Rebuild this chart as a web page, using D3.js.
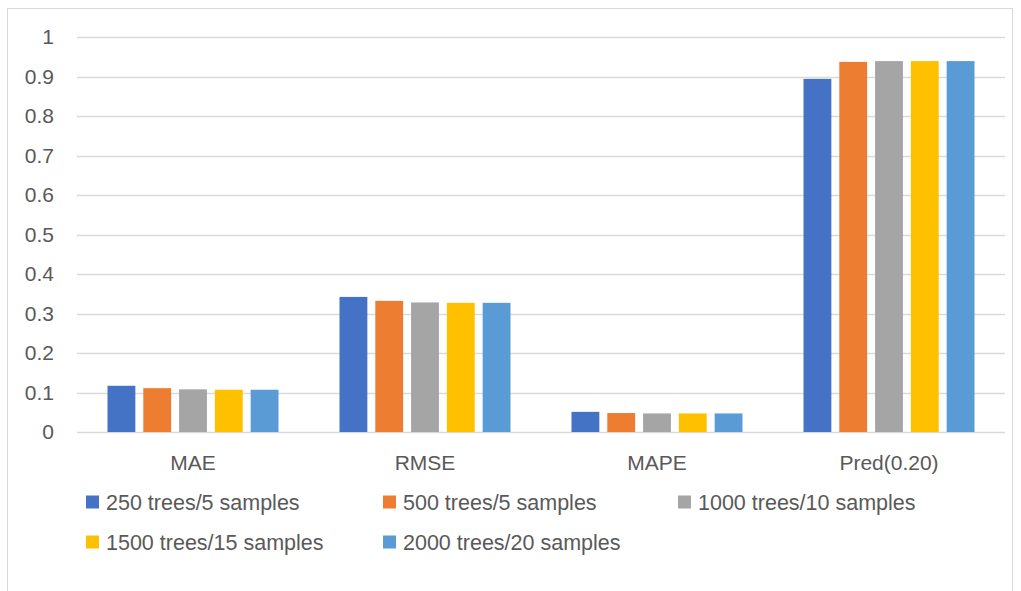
<!DOCTYPE html>
<html>
<head>
<meta charset="utf-8">
<script src="https://cdn.jsdelivr.net/npm/d3@7/dist/d3.min.js"></script>
<style>
  html, body { margin: 0; padding: 0; background: #ffffff; }
  svg { display: block; }
  text { font-family: "Liberation Sans", Arial, sans-serif; fill: #595959; }
</style>
</head>
<body>
<svg id="chart" width="1021" height="591"></svg>
<script>
// Error metrics per model configuration
const categories = ["MAE", "RMSE", "MAPE", "Pred(0.20)"];
const seriesNames = [
  "250 trees/5 samples",
  "500 trees/5 samples",
  "1000 trees/10 samples",
  "1500 trees/15 samples",
  "2000 trees/20 samples"
];
const s250 = [0.117, 0.342, 0.051, 0.894];
const s500 = [0.111, 0.332, 0.048, 0.937];
const s1000 = [0.108, 0.328, 0.047, 0.939];
const s1500 = [0.107, 0.327, 0.047, 0.939];
const s2000 = [0.107, 0.327, 0.047, 0.939];
const yTicks = [0, 0.1, 0.2, 0.3, 0.4, 0.5, 0.6, 0.7, 0.8, 0.9, 1];
const colors = ["#4472C4", "#ED7D31", "#A5A5A5", "#FFC000", "#5B9BD5"];

const seriesValues = [s250, s500, s1000, s1500, s2000];

const svg = d3.select("#chart");

// Outer chart frame
svg.append("rect")
  .attr("x", 7.5).attr("y", 8.5)
  .attr("width", 1005).attr("height", 600)
  .attr("fill", "none").attr("stroke", "#d9d9d9").attr("stroke-width", 1);

const plot = { left: 77, right: 1005, top: 37, bottom: 432 };

const y = d3.scaleLinear().domain([0, 1]).range([plot.bottom, plot.top]);
const x0 = d3.scaleBand().domain(categories).range([plot.left, plot.right]).padding(0);
const groupPad = 30.5;
const x1 = d3.scaleBand()
  .domain(d3.range(seriesNames.length))
  .range([groupPad, x0.bandwidth() - groupPad])
  .paddingInner(0.222).paddingOuter(0);

// Horizontal gridlines
svg.append("g")
  .selectAll("line")
  .data(yTicks)
  .join("line")
  .attr("x1", plot.left).attr("x2", plot.right)
  .attr("y1", d => Math.round(y(d)) + 0.5)
  .attr("y2", d => Math.round(y(d)) + 0.5)
  .attr("stroke", "#d9d9d9").attr("stroke-width", 1.5);

// Y axis labels
const yAxis = d3.axisLeft(y).tickValues(yTicks).tickFormat(d3.format("~g")).tickSize(0).tickPadding(23);
const yg = svg.append("g").attr("transform", `translate(${plot.left},0)`).call(yAxis);
yg.select(".domain").remove();
yg.selectAll("text").style("font-size", "21px").attr("fill", "#595959")
  .style("font-family", "'Liberation Sans', Arial, sans-serif");

// Bars
const groups = svg.append("g")
  .selectAll("g")
  .data(categories)
  .join("g")
  .attr("transform", c => `translate(${x0(c)},0)`);

groups.selectAll("rect")
  .data((c, ci) => seriesValues.map((vals, si) => ({ si, v: vals[ci] })))
  .join("rect")
  .attr("x", d => x1(d.si))
  .attr("width", x1.bandwidth())
  .attr("y", d => y(d.v))
  .attr("height", d => y(0) - y(d.v))
  .attr("fill", d => colors[d.si]);

// X axis category labels
const xAxis = d3.axisBottom(x0).tickSize(0).tickPadding(23);
const xg = svg.append("g").attr("transform", `translate(0,${plot.bottom})`).call(xAxis);
xg.select(".domain").remove();
xg.selectAll("text").style("font-size", "21px").attr("fill", "#595959")
  .style("font-family", "'Liberation Sans', Arial, sans-serif");

// Legend
const legendPos = [
  { x: 86, y: 502 }, { x: 383, y: 502 }, { x: 678, y: 502 },
  { x: 86, y: 542 }, { x: 383, y: 542 }
];
const legend = svg.append("g")
  .selectAll("g")
  .data(seriesNames)
  .join("g")
  .attr("transform", (d, i) => `translate(${legendPos[i].x},${legendPos[i].y})`);
legend.append("rect")
  .attr("x", 0).attr("y", -6.5).attr("width", 13).attr("height", 13)
  .attr("fill", (d, i) => colors[i]);
legend.append("text")
  .attr("x", 20).attr("y", 0).attr("dy", "0.35em")
  .style("font-size", "21.5px")
  .text(d => d);
</script>
</body>
</html>
